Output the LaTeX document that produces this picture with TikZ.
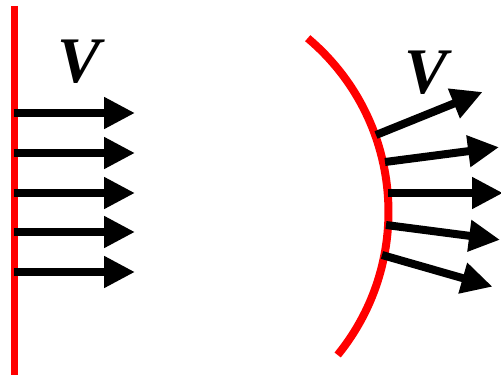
\documentclass[tikz,border=0pt]{standalone}
\usepackage{fontspec}
\setmainfont{Liberation Serif}
\usetikzlibrary{arrows.meta}

\begin{document}
\begin{tikzpicture}[x=0.02cm, y=-0.02cm,
    flowArrow/.style={line width=0.16cm, -{Triangle[length=0.62cm, width=0.6cm]}},
    wallLine/.style={draw=wallColour, line width=0.16cm},
    velLabel/.style={font=\bfseries\itshape\fontsize{37}{40}\selectfont, inner sep=0pt}]
    % Define colours
    \definecolor{wallColour}{HTML}{FF0000}

    % Define arrow length
    \def\arrowLength{115}

    % Fix the picture size
    \clip (0,0) rectangle (501,375);

    % Draw the flat wall
    \coordinate (wallTop) at (14.5,6);
    \coordinate (wallBot) at (14.5,376);
    \draw[wallLine] (wallTop) -- (wallBot);

    % Draw the uniform velocity arrows
    \foreach \y [count=\i] in {113,153,193,232,272} {
        \coordinate (flatTail\i) at (14,\y);
        \coordinate (flatTip\i) at (135,\y);
        \draw[flowArrow] (flatTail\i) -- (flatTip\i);
    }

    % Label the flat wall velocity
    \node[velLabel] (flatV) at (79,62) {V};

    % Draw the curved wall
    \coordinate (arcTop) at (307.7,38.2);
    \draw[wallLine] (arcTop) arc[start angle=-49.9, end angle=39.1, radius=227];

    % Draw the diverging velocity arrows
    \foreach \x/\y/\a [count=\i] in {376/135/-22, 385/162/-7.4, 388/193/0, 386/225/7.4, 382/255/16} {
        \coordinate (curvTail\i) at (\x,\y);
        \coordinate (curvTip\i) at ([shift={(\a:\arrowLength)}]curvTail\i);
        \draw[flowArrow] (curvTail\i) -- (curvTip\i);
    }

    % Label the curved wall velocity
    \node[velLabel] (curvV) at (426,73) {V};

\end{tikzpicture}
\end{document}
